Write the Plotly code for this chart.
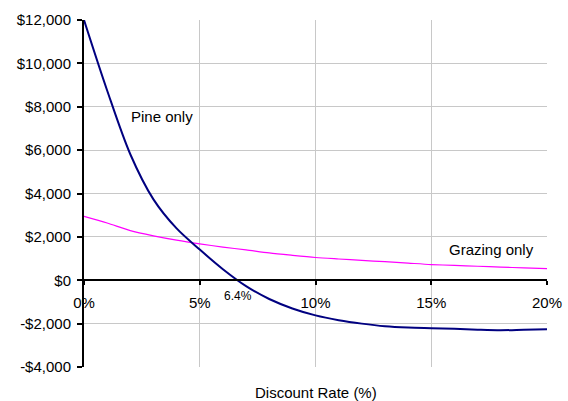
import plotly.graph_objects as go

rates = [0, 1, 2, 3, 4, 5, 6, 7, 8, 9, 10, 11, 12, 13, 14, 15, 16, 17, 18, 19, 20]
pine = [12000, 8750, 5810, 3730, 2390, 1415, 510, -270, -865, -1300, -1620,
        -1840, -2000, -2120, -2180, -2210, -2240, -2280, -2305, -2280, -2255]
grazing = [2950, 2640, 2290, 2050, 1850, 1680, 1530, 1400, 1260, 1150, 1050,
           980, 915, 855, 790, 725, 685, 645, 605, 570, 540]

x_ticks = [0, 5, 10, 15, 20]
x_tick_labels = ["0%", "5%", "10%", "15%", "20%"]
y_ticks = [-4000, -2000, 0, 2000, 4000, 6000, 8000, 10000, 12000]
y_tick_labels = ["-$4,000", "-$2,000", "$0", "$2,000", "$4,000", "$6,000",
                 "$8,000", "$10,000", "$12,000"]

FONT = "Liberation Sans, Arial, sans-serif"
L, R, T, B = 84, 21, 20, 34
W, H = 568, 401
plot_h = H - T - B

fig = go.Figure()
fig.add_trace(go.Scatter(x=rates, y=grazing, mode="lines",
                         line=dict(color="#FF00FF", width=1.2, shape="spline", smoothing=0.8),
                         name="Grazing only", hoverinfo="skip"))
fig.add_trace(go.Scatter(x=rates, y=pine, mode="lines",
                         line=dict(color="#000080", width=2, shape="spline", smoothing=0.9),
                         name="Pine only", hoverinfo="skip"))

fig.update_layout(
    width=W, height=H,
    margin=dict(l=L, r=R, t=T, b=B, autoexpand=False),
    paper_bgcolor="white", plot_bgcolor="white",
    showlegend=False,
    font=dict(family=FONT, size=15, color="black"),
    xaxis=dict(
        range=[0, 20], tickvals=x_ticks, ticktext=x_tick_labels,
        showgrid=True, gridcolor="#c8c8c8", gridwidth=1,
        zeroline=False, showline=True, linecolor="black", linewidth=2,
        ticks="outside", ticklen=4, tickwidth=2, tickcolor="black",
        anchor="free", position=0.25, ticklabelstandoff=5, automargin=False,
        tickfont=dict(family=FONT, size=15, color="black"),
    ),
    yaxis=dict(
        range=[-4000, 12000], tickvals=y_ticks, ticktext=y_tick_labels,
        showgrid=True, gridcolor="#c8c8c8", gridwidth=1,
        zeroline=False, showline=True, linecolor="black", linewidth=2,
        ticks="outside", ticklen=5, tickwidth=2, tickcolor="black",
        ticklabelstandoff=3, automargin=False,
        tickfont=dict(family=FONT, size=15, color="black"),
    ),
    annotations=[
        dict(text="Pine only", x=3.39, y=7555, xref="x", yref="y", showarrow=False,
             font=dict(family=FONT, size=15, color="black")),
        dict(text="Grazing only", x=17.6, y=1430, xref="x", yref="y", showarrow=False,
             font=dict(family=FONT, size=15, color="black")),
        dict(text="6.4%", x=6.66, y=-740, xref="x", yref="y", showarrow=False,
             font=dict(family=FONT, size=12, color="black")),
        dict(text="Discount Rate (%)", x=(316 - L) / (W - L - R), y=(H - B - 392) / plot_h,
             xref="paper", yref="paper", yanchor="middle",
             showarrow=False, font=dict(family=FONT, size=15, color="black")),
    ],
)

fig.write_html("out.html", config={"displayModeBar": False},
               post_script="document.body.style.margin='0';document.body.style.overflow='hidden';")
